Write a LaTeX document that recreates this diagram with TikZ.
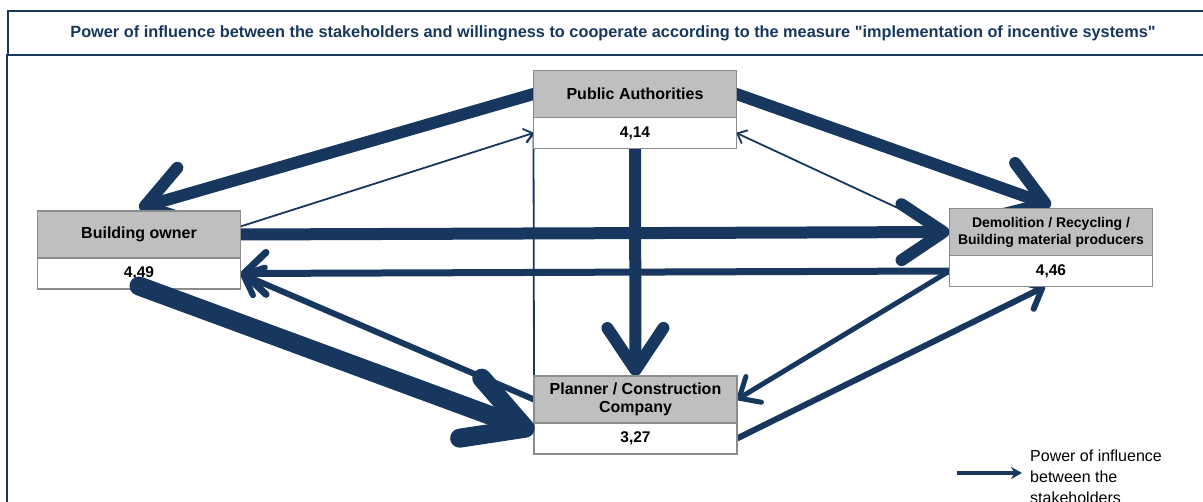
\documentclass[tikz,border=0pt]{standalone}
\usepackage{fontspec}
\setmainfont{Liberation Sans}
\usetikzlibrary{arrows.meta,positioning,backgrounds}
\definecolor{navy}{HTML}{17375E}
\definecolor{boxgray}{HTML}{BFBFBF}
\definecolor{boxline}{HTML}{8C8C8C}

\tikzset{
  actor/.style={draw=boxline, line width=1.5pt, fill=boxgray, outer sep=0pt, inner sep=0pt,
    minimum width=203pt, minimum height=47pt, align=center,
    font=\bfseries\fontsize{16}{18}\selectfont},
  score/.style={draw=boxline, line width=1.5pt, fill=white, outer sep=0pt, inner sep=0pt,
    minimum width=203pt, minimum height=31pt,
    font=\bfseries\fontsize{15.5}{18}\selectfont},
  infl/.style={draw=navy, line cap=round, line join=round},
  weak/.style={infl, line width=1.8pt, -{Straight Barb[length=8pt,width=14pt,round]}},
  mid/.style={infl, line width=5pt, -{Straight Barb[length=17pt,width=30pt,round]}},
  midplus/.style={infl, line width=7pt, -{Straight Barb[length=22pt,width=42pt,round]}},
  strong/.style={infl, line width=12pt, -{Straight Barb[length=42pt,width=56pt,round]}},
  heavy/.style={infl, line width=19pt, -{Straight Barb[length=58pt,width=64pt,round]}}
}

\begin{document}
\begin{tikzpicture}[x=1pt, y=-1pt]
\useasboundingbox (0,0) rectangle (1203,502);
\clip (0,0) rectangle (1203,502);

% frame and title
\draw[navy, line width=1.5pt] (7,54) -- (7,510);
\node[draw=navy, line width=2pt, minimum width=1210pt, minimum height=44pt, anchor=north west,
  text=navy, font=\bfseries\fontsize{16.3}{18}\selectfont] (title) at (7,10)
  {Power of influence between the stakeholders and willingness to cooperate according to the measure \textquotedbl implementation of incentive systems\textquotedbl};

% stakeholders
\node[actor] (pa) at (635,94) {Public Authorities};
\node[score, below=0pt of pa] (pa-v) {4,14};

\node[actor] (bo) at (139,234.5) {Building owner};
\node[score, below=0pt of bo] (bo-v) {4,49};

\node[actor, font=\bfseries\fontsize{14}{17}\selectfont] (dem) at (1051,232) {Demolition / Recycling /\\Building material producers};
\node[score, below=0pt of dem] (dem-v) {4,46};

\node[actor] (pl) at (635.5,399.5) {Planner / Construction\\Company};
\node[score, below=0pt of pl] (pl-v) {3,27};

% influence arrows
\begin{scope}[on background layer]
  \draw[strong] (pa.west) -- ([yshift=3pt]bo.north);
  \draw[strong] (pa.east) -- ([yshift=3pt]dem.north);
  \draw[strong] (pa-v.south) -- (pl.north);
  \draw[strong] (bo.east) -- (dem.west);
  \draw[midplus] (dem-v.west) -- (bo-v.east);
  \draw[mid, line width=6pt] (pl.west) -- (bo-v.east);
  \draw[weak] ([yshift=8pt]bo.east) -- (pa-v.west);
  \draw[weak] (pl.north west) -- (pa-v.west);
  \draw[weak] (dem.west) -- (pa-v.east);
  \draw[mid] (dem-v.west) -- (pl.east);
  \draw[mid, line width=6pt] (pl-v.east) -- ([xshift=-6pt]dem-v.south);
\end{scope}
\draw[heavy] ([yshift=3pt]bo-v.south) -- ([yshift=7pt]pl-v.west);

% legend
\coordinate (leg-a) at (957,473);
\coordinate (leg-b) at (1022,473);
\draw[navy, line width=4pt, -{Stealth[length=11pt,width=12pt]}] (leg-a) -- (leg-b);
\node[anchor=north west, align=left, inner sep=0pt, font=\fontsize{16}{21}\selectfont] (leg-text) at (1030,450)
  {Power of influence\\between the\\stakeholders};
\end{tikzpicture}
\end{document}
